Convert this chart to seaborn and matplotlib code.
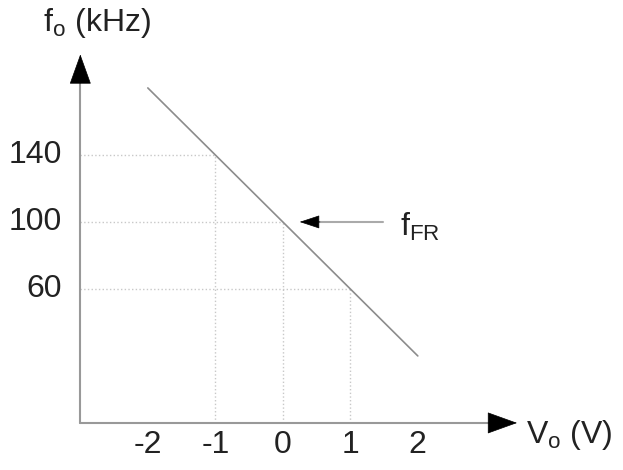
import matplotlib
matplotlib.use("Agg")
import matplotlib.pyplot as plt
import seaborn as sns
import pandas as pd

# frekans - gerilim karakteristigi (V/F donusturucu)
v_o = [-2, 2]            # V
f_o = [180, 20]          # kHz
v_mark = [-1, 0, 1]      # noktali kilavuz cizgileri
f_mark = [140, 100, 60]
x_ticks = [-2, -1, 0, 1, 2]
y_ticks = [140, 100, 60]
x_lo, x_hi = -3, 3.47    # eksen oklari
y_lo, y_hi = -20, 200
f_fr = (0, 100)          # serbest calisma frekansi

sns.set_theme(style="white")
plt.rcParams["font.family"] = ["Liberation Sans", "DejaVu Sans"]
plt.rcParams["mathtext.fontset"] = "custom"
plt.rcParams["mathtext.rm"] = "Liberation Sans"
plt.rcParams["mathtext.it"] = "Liberation Sans"

fig = plt.figure(figsize=(6.23, 4.70), dpi=100)
ax = fig.add_axes([0, 0, 1, 1])
ax.set_xlim(-4.19, 5.04)
ax.set_ylim(-48.1, 232.5)
ax.axis("off")

grey = "#8c8c8c"
fs = 23

# noktali kilavuzlar
for v, f in zip(v_mark, f_mark):
    ax.plot([x_lo, v], [f, f], ls=":", color="#c8c8c8", lw=1)
    ax.plot([v, v], [y_lo, f], ls=":", color="#c8c8c8", lw=1)

# karakteristik dogru
df = pd.DataFrame({"V": v_o, "f": f_o})
sns.lineplot(data=df, x="V", y="f", ax=ax, color=grey, lw=1.2)

# eksenler + oklar
ax.plot([x_lo, x_hi - 0.25], [y_lo, y_lo], color="#999999", lw=1.5)
ax.plot([x_lo, x_lo], [y_lo, y_hi - 15], color="#999999", lw=1.5)
head = dict(arrowstyle="-|>,head_length=1.0,head_width=0.36", color="black",
            mutation_scale=20, shrinkA=0, shrinkB=0, lw=0.5)
ax.annotate("", xy=(x_hi, y_lo), xytext=(x_hi - 0.42, y_lo), arrowprops=head)
ax.annotate("", xy=(x_lo, y_hi), xytext=(x_lo, y_hi - 17), arrowprops=head)

# f_FR oku
ax.plot([f_fr[0] + 0.5, f_fr[0] + 1.48], [f_fr[1], f_fr[1]], color="#aaaaaa", lw=1.5)
small = dict(arrowstyle="-|>,head_length=1.3,head_width=0.43", color="black",
             mutation_scale=10, shrinkA=0, shrinkB=0, lw=0.5)
ax.annotate("", xy=(f_fr[0] + 0.25, f_fr[1]), xytext=(f_fr[0] + 0.55, f_fr[1]),
            arrowprops=small)
ax.text(1.73, 97, r"f$_{\mathrm{FR}}$", fontsize=fs, ha="left", va="center", color="#222222")

# tick etiketleri
for v in x_ticks:
    ax.text(v, -33, str(v), fontsize=fs, ha="center", va="center", color="#222222")
for f in y_ticks:
    ax.text(-3.27, f, str(f), fontsize=fs, ha="right", va="center", color="#222222")

# eksen basliklari
ax.text(-3.56, 219, r"f$_{\mathrm{o}}$ (kHz)", fontsize=fs, ha="left", va="center", color="#222222")
ax.text(3.61, -27, r"V$_{\mathrm{o}}$ (V)", fontsize=fs, ha="left", va="center", color="#222222")

fig.savefig("out.png", dpi=100)
